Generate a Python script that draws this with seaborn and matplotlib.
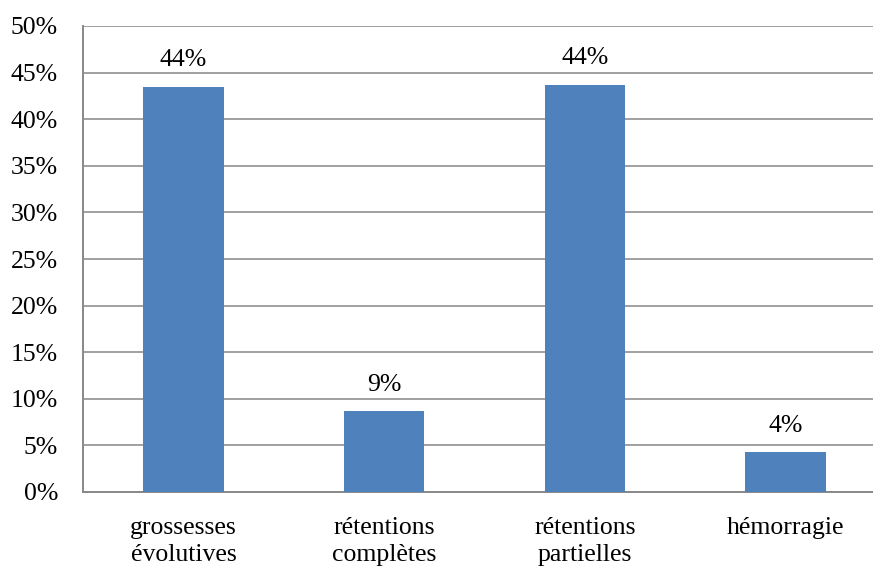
import matplotlib
matplotlib.use("Agg")
import matplotlib.pyplot as plt
import seaborn as sns
import pandas as pd

categories = ["grossesses\névolutives", "rétentions\ncomplètes", "rétentions\npartielles", "hémorragie"]
values = [43.5, 8.7, 43.7, 4.3]
labels = ["44%", "9%", "44%", "4%"]
yticks = [0, 5, 10, 15, 20, 25, 30, 35, 40, 45, 50]

sns.set_style("white")
plt.rcParams['font.family'] = ['Liberation Serif', 'DejaVu Serif']
plt.rcParams['text.color'] = 'black'

df = pd.DataFrame({"cat": categories, "val": values})

fig = plt.figure(figsize=(8.73, 5.67), dpi=100)
ax = fig.add_axes([83 / 873, 75 / 567, 803 / 873, 466 / 567])

sns.barplot(data=df, x="cat", y="val", color="#4F81BD", width=0.4,
            saturation=1, linewidth=0, edgecolor="none", ax=ax, zorder=3)

ax.set_ylim(0, 50)
ax.set_xlim(-0.5, 3.5)
ax.set_yticks(yticks)
ax.set_yticklabels([f"{t}%" for t in yticks], fontsize=18.5)
ax.yaxis.grid(True, color="#a0a0a0", linewidth=1.4, zorder=0)
ax.set_axisbelow(True)

ax.set_xticks(range(len(categories)))
ax.set_xticklabels(categories, fontsize=18.5, linespacing=1.3)
ax.tick_params(axis="x", length=0, pad=18, labelcolor="black")
# tick marks sit between categories, like Excel
ax.set_xticks([-0.5, 0.5, 1.5, 2.5, 3.5], minor=True)
ax.tick_params(axis="x", which="minor", length=6, width=1.2, color="#888888")
ax.tick_params(axis="y", length=6, width=1.2, color="#888888", pad=12, labelcolor="black")

for side in ["top", "right"]:
    ax.spines[side].set_visible(False)
for side in ["left", "bottom"]:
    ax.spines[side].set_color("#888888")
    ax.spines[side].set_linewidth(1.4)

ax.set_xlabel("")
ax.set_ylabel("")
ax.bar_label(ax.containers[0], labels=labels, padding=11, fontsize=18.5, color="black")

fig.savefig("out.png", dpi=100)
plt.close()
